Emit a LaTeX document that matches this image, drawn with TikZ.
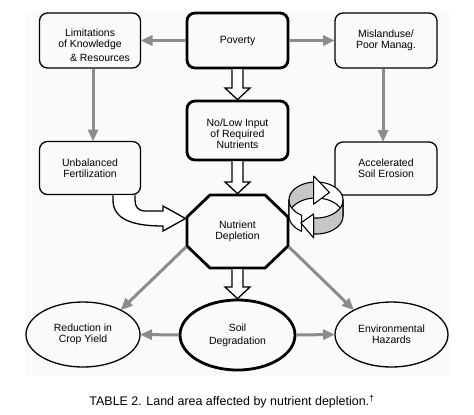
\documentclass[tikz,border=0pt]{standalone}
\usepackage{fontspec}
\setmainfont{Liberation Sans}
\usetikzlibrary{shapes.geometric,arrows.meta,calc}

\definecolor{arrgray}{gray}{0.55}
\definecolor{ringgray}{gray}{0.78}

% open (white) arrow going straight down from #1 to #2
\newcommand\hollowdown[2]{%
  \filldraw[fill=white,line width=1.3bp,line join=miter]
    let \p1=(#1), \p2=(#2) in
    (\x1-5.5bp,\y1-1.4bp) -- (\x1-5.5bp,\y2+13bp) -- (\x1-12.5bp,\y2+13bp)
    -- (\x1,\y2+1.4bp) -- (\x1+12.5bp,\y2+13bp) -- (\x1+5.5bp,\y2+13bp)
    -- (\x1+5.5bp,\y1-1.4bp);}

\begin{document}
\begin{tikzpicture}[x=1bp,y=-1bp,
    txt/.style={font=\fontsize{10.5}{11}\selectfont, align=center, inner sep=1bp, outer sep=0pt},
    box/.style={txt, draw, rounded corners=8bp, line width=1.3bp, minimum width=101bp, minimum height=55bp},
    heavybox/.style={box, line width=2.8bp},
    oval/.style={txt, ellipse, draw, line width=1.3bp, minimum width=114bp, minimum height=65bp},
    grayarrow/.style={draw=arrgray, line width=3bp, -{Triangle[length=12bp,width=10bp]}, shorten <=1.4bp},
    ring/.style={line width=1.1bp, line join=round},
    declare function={ringx(\t)=316+27*cos(\t); ringa(\t)=200-18*sin(\t);
                      ringb(\t)=216-18*sin(\t); ringm(\t)=208-18*sin(\t);}]

    \useasboundingbox (0,0) rectangle (474,414);
    \fill[black!2] (25,12) rectangle (449,376);

    % top row
    \node[box] (lim) at (90,40.5) {\rule{0pt}{17bp}Limitations\\of Knowledge\\[3bp]\hspace*{20bp}\& Resources};
    \node[heavybox] (pov) at (237.5,40.5) {Poverty};
    \node[box, minimum width=102bp] (mis) at (386,40.5) {Mislanduse/\\Poor Manag.};

    % middle row
    \node[heavybox, minimum height=59bp] (nolow) at (237.5,130.5) {\rule{0pt}{15bp}No/Low Input\\of Required\\Nutrients};
    \node[box, minimum height=53bp] (ub) at (90,168) {Unbalanced\\Fertilization};
    \node[box, minimum width=102bp, minimum height=53bp] (ase) at (386,168.5) {Accelerated\\Soil Erosion};

    % octagon
    \node[txt, minimum width=101bp, minimum height=73bp] (nd) at (237.5,231.5) {Nutrient\\Depletion};
    \draw[line width=2.8bp, line join=miter]
        ([xshift=23bp]nd.north west) -- ([xshift=-23bp]nd.north east)
        -- ([yshift=-22bp]nd.north east) -- ([yshift=22bp]nd.south east)
        -- ([xshift=-23bp]nd.south east) -- ([xshift=23bp]nd.south west)
        -- ([yshift=22bp]nd.south west) -- ([yshift=-22bp]nd.north west) -- cycle;

    % bottom row
    \node[oval] (red) at (83,334.5) {Reduction in\\Crop Yield};
    \node[oval, line width=2.8bp, minimum width=115bp, minimum height=70bp] (sd) at (237.5,335) {Soil\\[2bp]Degradation};
    \node[oval, minimum width=113bp] (env) at (391.5,334.5) {Environmental\\Hazards};

    % gray arrows
    \draw[grayarrow] (pov.west) -- (lim.east);
    \draw[grayarrow] (pov.east) -- (mis.west);
    \draw[grayarrow] ([xshift=3bp]lim.south) -- ([xshift=3bp]ub.north);
    \draw[grayarrow] ([xshift=-3bp]mis.south) -- ([xshift=-3bp]ase.north);
    \draw[grayarrow] ([yshift=22bp]nd.south west) -- (red.33);
    \draw[grayarrow] ([yshift=22bp]nd.south east) -- (env.147);
    \draw[grayarrow] (sd.west) -- (red.east);
    \draw[grayarrow] (sd.east) -- (env.west);

    % open arrows
    \hollowdown{pov.south}{nolow.north}
    \hollowdown{nolow.south}{nd.north}
    \hollowdown{nd.south}{sd.north}
    \filldraw[fill=white, line width=1.3bp, line join=miter]
        (113,195.3) -- (113,200) .. controls (113,219) and (132,226) .. (163,226)
        -- (163,231) -- (185.5,218.5) -- (163,206) -- (163,211) -- (146,211)
        .. controls (138,211) and (135,207) .. (135,200) -- (135,195.3);

    % cycle symbol
    \filldraw[ring, fill=white] plot[domain=0:95] ({ringx(\x)},{ringa(\x)})
        -- plot[domain=95:0] ({ringx(\x)},{ringb(\x)}) -- cycle;
    \filldraw[ring, fill=ringgray] plot[domain=95:180] ({ringx(\x)},{ringa(\x)})
        -- plot[domain=180:95] ({ringx(\x)},{ringb(\x)}) -- cycle;
    \filldraw[ring, fill=white] ({ringx(95)},{ringa(95)-6}) -- ({ringx(60)},{ringm(60)})
        -- ({ringx(95)},{ringb(95)+6}) -- cycle;
    \filldraw[ring, fill=white] plot[domain=-180:-122] ({ringx(\x)},{ringa(\x)})
        -- plot[domain=-122:-180] ({ringx(\x)},{ringb(\x)}) -- cycle;
    \filldraw[ring, fill=ringgray] plot[domain=-95:0] ({ringx(\x)},{ringa(\x)})
        -- plot[domain=0:-95] ({ringx(\x)},{ringb(\x)}) -- cycle;
    \filldraw[ring, fill=white] ({ringx(-95)},{ringa(-95)-4}) -- ({ringx(-124)},{ringm(-124)})
        -- ({ringx(-95)},{ringb(-95)+4}) -- cycle;

    % caption
    \node[font=\fontsize{12.5}{14}\selectfont, anchor=base, inner sep=0pt] (cap) at (232,405.7)
        {TABLE 2. Land area affected by nutrient depletion.\textsuperscript{†}};

\end{tikzpicture}
\end{document}
